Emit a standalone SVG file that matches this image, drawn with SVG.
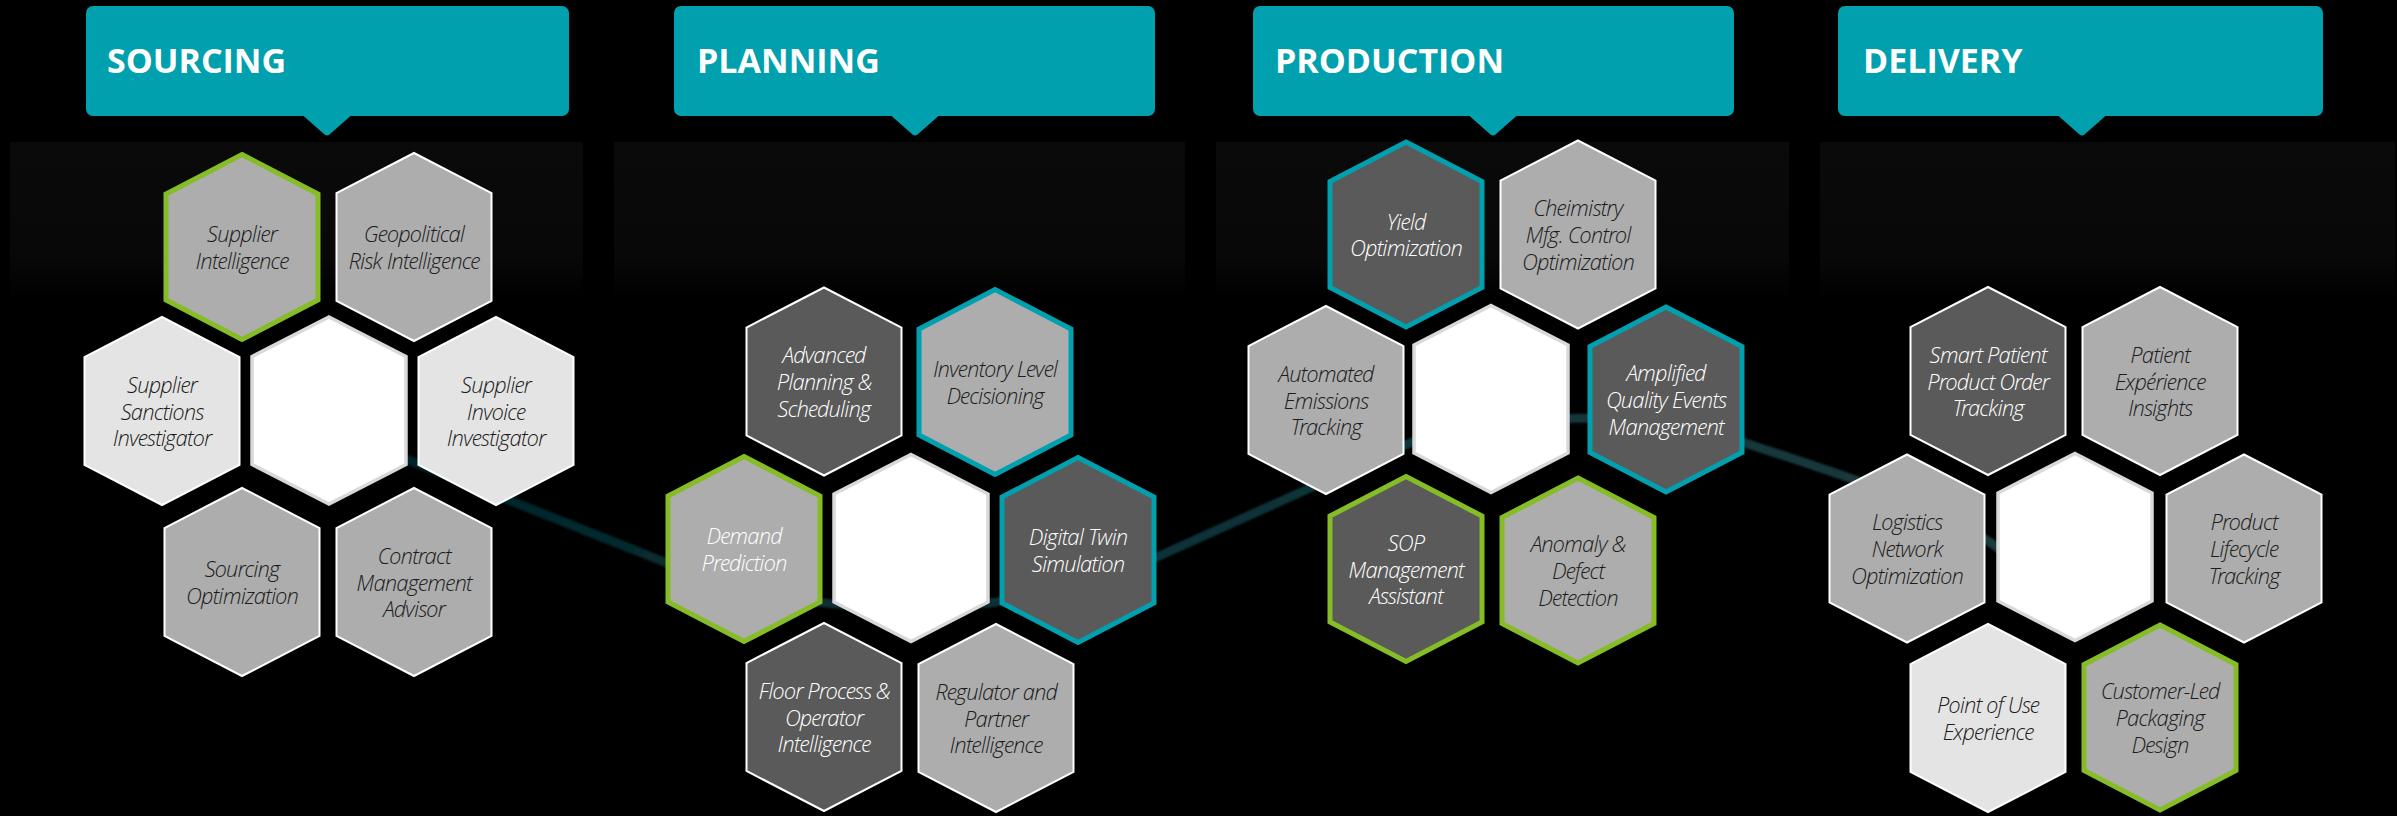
<svg xmlns="http://www.w3.org/2000/svg" xmlns:xlink="http://www.w3.org/1999/xlink" width="2397" height="816" viewBox="0 0 2397 816">
  <style>
    .hdr { fill: #00a0ae; }
    .hdr-t { font-family: "Open Sans", "Liberation Sans", sans-serif; font-weight: 700; font-size: 34px; fill: #ffffff; }
    .band { fill: url(#bandFade); }
    .lbl { font-family: "Open Sans Light", "Open Sans", "Liberation Sans", sans-serif; font-weight: 300; font-style: italic; font-size: 22px; letter-spacing: -0.8px; text-anchor: middle; }
    .dk { fill: #ffffff; }
    .lt { fill: #1c1c1c; }
    .h-gray { fill: #adadad; stroke: #ffffff; stroke-width: 2; }
    .h-dark { fill: #5a5a5a; stroke: #ffffff; stroke-width: 2; }
    .h-pale { fill: #e4e4e4; stroke: #ffffff; stroke-width: 2; }
    .h-core { fill: #ffffff; stroke: #d9d9d9; stroke-width: 3.5; }
    .ring-g { stroke: #86bc25; stroke-width: 5; }
    .ring-t { stroke: #00a0ae; stroke-width: 5; }
    .flow { fill: none; stroke: url(#flowTint); stroke-width: 9; stroke-linecap: round; filter: url(#soft); }
  </style>
  <defs>
    <linearGradient id="bandFade" x1="0" y1="0" x2="0" y2="1">
      <stop offset="0" stop-color="#0a0a0a"/>
      <stop offset="0.72" stop-color="#080808"/>
      <stop offset="1" stop-color="#000000"/>
    </linearGradient>
    <linearGradient id="flowTint" gradientUnits="userSpaceOnUse" x1="330" y1="0" x2="2060" y2="0">
      <stop offset="0" stop-color="#05252a"/>
      <stop offset="0.5" stop-color="#0a3338"/>
      <stop offset="1" stop-color="#1f3b3d"/>
    </linearGradient>
    <filter id="soft" x="-5%" y="-50%" width="110%" height="200%">
      <feGaussianBlur stdDeviation="1.2"/>
    </filter>
    <!-- hexagon outlines: plain, ringed (thick border), core -->
    <polygon id="hx" points="0,-94 77.5,-54 77.5,54 0,94 -77.5,54 -77.5,-54"/>
    <polygon id="hxr" points="0,-92.5 76,-53 76,53 0,92.5 -76,53 -76,-53"/>
    <polygon id="hxc" points="0,-93.5 77,-54 77,54 0,93.5 -77,54 -77,-54"/>
    <path id="pin" d="M-24,0 L24,0 L2.5,19 Q0,21 -2.5,19 Z"/>
  </defs>

  <rect width="2397" height="816" fill="#000000"/>

  <!-- column backdrops -->
  <rect class="band" x="10" y="142" width="573" height="158"/>
  <rect class="band" x="614" y="142" width="571" height="158"/>
  <rect class="band" x="1216" y="142" width="573" height="158"/>
  <rect class="band" x="1820" y="142" width="575" height="158"/>

  <!-- stage headers -->
  <g id="hdr-sourcing">
    <rect class="hdr" x="86" y="6" width="483" height="110" rx="7"/>
    <use href="#pin" x="327" y="115.5" class="hdr"/>
    <text class="hdr-t" x="107" y="73">SOURCING</text>
  </g>
  <g id="hdr-planning">
    <rect class="hdr" x="674" y="6" width="481" height="110" rx="7"/>
    <use href="#pin" x="915" y="115.5" class="hdr"/>
    <text class="hdr-t" x="697" y="73">PLANNING</text>
  </g>
  <g id="hdr-production">
    <rect class="hdr" x="1253" y="6" width="481" height="110" rx="7"/>
    <use href="#pin" x="1493" y="115.5" class="hdr"/>
    <text class="hdr-t" x="1275" y="73">PRODUCTION</text>
  </g>
  <g id="hdr-delivery">
    <rect class="hdr" x="1838" y="6" width="485" height="110" rx="7"/>
    <use href="#pin" x="2082" y="115.5" class="hdr"/>
    <text class="hdr-t" x="1863" y="73">DELIVERY</text>
  </g>

  <!-- flow line linking the stage cores -->
  <g id="connectors">
    <path class="flow" d="M330,429 L667,563 C817,623 1007,624.5 1157,557 L1410,443 C1480,411 1675,409 1745,443 C1820,468 1930,500 1997,547 L2060,600"/>
  </g>

  <!-- SOURCING -->
  <g id="n-supplier-intelligence" transform="translate(242,247)">
    <use href="#hxr" class="h-gray ring-g"/>
    <text class="lbl lt"><tspan x="0" y="-4.9">Supplier</tspan><tspan x="0" y="21.8">Intelligence</tspan></text>
  </g>
  <g id="n-geopolitical" transform="translate(414,247)">
    <use href="#hx" class="h-gray"/>
    <text class="lbl lt"><tspan x="0" y="-4.9">Geopolitical</tspan><tspan x="0" y="21.8">Risk Intelligence</tspan></text>
  </g>
  <g id="n-sanctions" transform="translate(162,411)">
    <use href="#hx" class="h-pale"/>
    <text class="lbl lt"><tspan x="0" y="-18.2">Supplier</tspan><tspan x="0" y="8.5">Sanctions</tspan><tspan x="0" y="35.2">Investigator</tspan></text>
  </g>
  <g id="n-sourcing-core" transform="translate(329,410.5)">
    <use href="#hxc" class="h-core"/>
  </g>
  <g id="n-invoice" transform="translate(496,411)">
    <use href="#hx" class="h-pale"/>
    <text class="lbl lt"><tspan x="0" y="-18.2">Supplier</tspan><tspan x="0" y="8.5">Invoice</tspan><tspan x="0" y="35.2">Investigator</tspan></text>
  </g>
  <g id="n-sourcing-opt" transform="translate(242,582)">
    <use href="#hx" class="h-gray"/>
    <text class="lbl lt"><tspan x="0" y="-4.9">Sourcing</tspan><tspan x="0" y="21.8">Optimization</tspan></text>
  </g>
  <g id="n-contract" transform="translate(414,582)">
    <use href="#hx" class="h-gray"/>
    <text class="lbl lt"><tspan x="0" y="-18.2">Contract</tspan><tspan x="0" y="8.5">Management</tspan><tspan x="0" y="35.2">Advisor</tspan></text>
  </g>

  <!-- PLANNING -->
  <g id="n-advanced-planning" transform="translate(824,381.5)">
    <use href="#hx" class="h-dark"/>
    <text class="lbl dk"><tspan x="0" y="-18.2">Advanced</tspan><tspan x="0" y="8.5">Planning &amp;</tspan><tspan x="0" y="35.2">Scheduling</tspan></text>
  </g>
  <g id="n-inventory" transform="translate(995,382)">
    <use href="#hxr" class="h-gray ring-t"/>
    <text class="lbl lt"><tspan x="0" y="-4.9">Inventory Level</tspan><tspan x="0" y="21.8">Decisioning</tspan></text>
  </g>
  <g id="n-demand" transform="translate(744,549)">
    <use href="#hxr" class="h-gray ring-g"/>
    <text class="lbl dk"><tspan x="0" y="-4.9">Demand</tspan><tspan x="0" y="21.8">Prediction</tspan></text>
  </g>
  <g id="n-planning-core" transform="translate(911,548)">
    <use href="#hxc" class="h-core"/>
  </g>
  <g id="n-digital-twin" transform="translate(1078,550)">
    <use href="#hxr" class="h-dark ring-t"/>
    <text class="lbl dk"><tspan x="0" y="-4.9">Digital Twin</tspan><tspan x="0" y="21.8">Simulation</tspan></text>
  </g>
  <g id="n-floor-process" transform="translate(824,717)">
    <use href="#hx" class="h-dark"/>
    <text class="lbl dk"><tspan x="0" y="-18.2">Floor Process &amp;</tspan><tspan x="0" y="8.5">Operator</tspan><tspan x="0" y="35.2">Intelligence</tspan></text>
  </g>
  <g id="n-regulator" transform="translate(996,718)">
    <use href="#hx" class="h-gray"/>
    <text class="lbl lt"><tspan x="0" y="-18.2">Regulator and</tspan><tspan x="0" y="8.5">Partner</tspan><tspan x="0" y="35.2">Intelligence</tspan></text>
  </g>

  <!-- PRODUCTION -->
  <g id="n-yield" transform="translate(1406,234.5)">
    <use href="#hxr" class="h-dark ring-t"/>
    <text class="lbl dk"><tspan x="0" y="-4.9">Yield</tspan><tspan x="0" y="21.8">Optimization</tspan></text>
  </g>
  <g id="n-chemistry" transform="translate(1578,234.5)">
    <use href="#hx" class="h-gray"/>
    <text class="lbl lt"><tspan x="0" y="-18.2">Cheimistry</tspan><tspan x="0" y="8.5">Mfg. Control</tspan><tspan x="0" y="35.2">Optimization</tspan></text>
  </g>
  <g id="n-emissions" transform="translate(1326,400)">
    <use href="#hx" class="h-gray"/>
    <text class="lbl lt"><tspan x="0" y="-18.2">Automated</tspan><tspan x="0" y="8.5">Emissions</tspan><tspan x="0" y="35.2">Tracking</tspan></text>
  </g>
  <g id="n-production-core" transform="translate(1491,399)">
    <use href="#hxc" class="h-core"/>
  </g>
  <g id="n-amplified" transform="translate(1666,399.5)">
    <use href="#hxr" class="h-dark ring-t"/>
    <text class="lbl dk"><tspan x="0" y="-18.2">Amplified</tspan><tspan x="0" y="8.5">Quality Events</tspan><tspan x="0" y="35.2">Management</tspan></text>
  </g>
  <g id="n-sop" transform="translate(1406,569)">
    <use href="#hxr" class="h-dark ring-g"/>
    <text class="lbl dk"><tspan x="0" y="-18.2">SOP</tspan><tspan x="0" y="8.5">Management</tspan><tspan x="0" y="35.2">Assistant</tspan></text>
  </g>
  <g id="n-anomaly" transform="translate(1578,570.5)">
    <use href="#hxr" class="h-gray ring-g"/>
    <text class="lbl lt"><tspan x="0" y="-18.2">Anomaly &amp;</tspan><tspan x="0" y="8.5">Defect</tspan><tspan x="0" y="35.2">Detection</tspan></text>
  </g>

  <!-- DELIVERY -->
  <g id="n-smart-patient" transform="translate(1988,381)">
    <use href="#hx" class="h-dark"/>
    <text class="lbl dk"><tspan x="0" y="-18.2">Smart Patient</tspan><tspan x="0" y="8.5">Product Order</tspan><tspan x="0" y="35.2">Tracking</tspan></text>
  </g>
  <g id="n-patient-experience" transform="translate(2160,381)">
    <use href="#hx" class="h-gray"/>
    <text class="lbl lt"><tspan x="0" y="-18.2">Patient</tspan><tspan x="0" y="8.5">Expérience</tspan><tspan x="0" y="35.2">Insights</tspan></text>
  </g>
  <g id="n-logistics" transform="translate(1907,548.5)">
    <use href="#hx" class="h-gray"/>
    <text class="lbl lt"><tspan x="0" y="-18.2">Logistics</tspan><tspan x="0" y="8.5">Network</tspan><tspan x="0" y="35.2">Optimization</tspan></text>
  </g>
  <g id="n-delivery-core" transform="translate(2075,547)">
    <use href="#hxc" class="h-core"/>
  </g>
  <g id="n-lifecycle" transform="translate(2244,548.5)">
    <use href="#hx" class="h-gray"/>
    <text class="lbl lt"><tspan x="0" y="-18.2">Product</tspan><tspan x="0" y="8.5">Lifecycle</tspan><tspan x="0" y="35.2">Tracking</tspan></text>
  </g>
  <g id="n-point-of-use" transform="translate(1988,718)">
    <use href="#hx" class="h-pale"/>
    <text class="lbl lt"><tspan x="0" y="-4.9">Point of Use</tspan><tspan x="0" y="21.8">Experience</tspan></text>
  </g>
  <g id="n-customer-led" transform="translate(2160,717.5)">
    <use href="#hxr" class="h-gray ring-g"/>
    <text class="lbl lt"><tspan x="0" y="-18.2">Customer-Led</tspan><tspan x="0" y="8.5">Packaging</tspan><tspan x="0" y="35.2">Design</tspan></text>
  </g>
</svg>
